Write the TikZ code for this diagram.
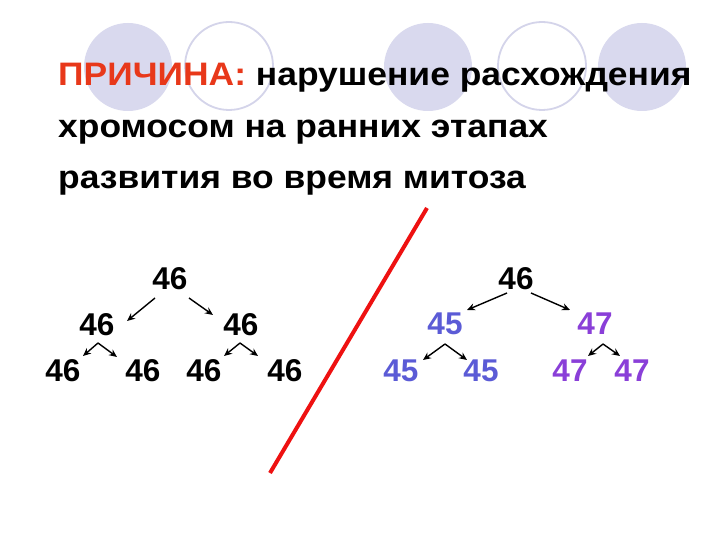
\documentclass[tikz,border=0pt]{standalone}
\usepackage{fontspec}
\setmainfont{Liberation Sans}
\usetikzlibrary{arrows.meta}
\definecolor{circfill}{HTML}{D9D9EE}
\definecolor{circline}{HTML}{D4D4EA}
\definecolor{causered}{HTML}{E8381A}
\definecolor{numblue}{HTML}{5B5BD6}
\definecolor{numpurple}{HTML}{8A3FD8}
\definecolor{slash}{HTML}{EE1111}
\newcommand{\wideline}[1]{\scalebox{1.09}[1]{#1}}
\tikzset{
  fillcirc/.style={circle, fill=circfill, minimum size=88pt, inner sep=0pt},
  ringcirc/.style={circle, draw=circline, line width=1.8pt, minimum size=88pt, inner sep=0pt},
  title/.style={anchor=base west, inner sep=0pt, font=\fontsize{32.5}{36}\selectfont\bfseries},
  num/.style={inner sep=0pt, font=\fontsize{31.5}{34}\selectfont\bfseries},
  arr/.style={-{Stealth[length=8pt,width=7pt]}, line width=1.4pt, black},
}
\begin{document}
\begin{tikzpicture}[x=1pt,y=-1pt]
\useasboundingbox (0,0) rectangle (720,540);
\fill[white] (0,0) rectangle (720,540);
% decorative circles
\node[fillcirc] (c1) at (128,67) {};
\node[ringcirc] (c2) at (229,66) {};
\node[fillcirc] (c3) at (428,67) {};
\node[ringcirc] (c4) at (542,66) {};
\node[fillcirc] (c5) at (642,67) {};
% title text
\node[title] (t1) at (58,86) {\wideline{\textcolor{causered}{ПРИЧИНА:} нарушение расхождения}};
\node[title] (t2) at (58,138) {\wideline{хромосом на ранних этапах}};
\node[title] (t3) at (58,189) {\wideline{развития во время митоза}};
% left tree
\node[num] (a0) at (170,279) {46};
\node[num] (a1) at (97,325) {46};
\node[num] (a2) at (241,325) {46};
\node[num] (a3) at (63,371) {46};
\node[num] (a4) at (143,371) {46};
\node[num] (a5) at (204,371) {46};
\node[num] (a6) at (285,371) {46};
\coordinate (a0l) at (155,298); \coordinate (a1t) at (127,321);
\coordinate (a0r) at (189,298); \coordinate (a2t) at (213,315);
\coordinate (a1x) at (98,343); \coordinate (a3t) at (83,356); \coordinate (a4t) at (117,357);
\coordinate (a2x) at (240,343); \coordinate (a5t) at (224,356); \coordinate (a6t) at (258,356);
\draw[arr] (a0l) -- (a1t);
\draw[arr] (a0r) -- (a2t);
\draw[arr] (a1x) -- (a3t);
\draw[arr] (a1x) -- (a4t);
\draw[arr] (a2x) -- (a5t);
\draw[arr] (a2x) -- (a6t);
% right tree
\node[num] (b0) at (516,279) {46};
\node[num, text=numblue] (b1) at (445,324) {45};
\node[num, text=numpurple] (b2) at (595,324) {47};
\node[num, text=numblue] (b3) at (401,371) {45};
\node[num, text=numblue] (b4) at (481,371) {45};
\node[num, text=numpurple] (b5) at (570,371) {47};
\node[num, text=numpurple] (b6) at (632,371) {47};
\coordinate (b0l) at (507,293); \coordinate (b1t) at (467,310);
\coordinate (b0r) at (531,293); \coordinate (b2t) at (570,310);
\coordinate (b1x) at (445,344); \coordinate (b3t) at (423,360); \coordinate (b4t) at (467,360);
\coordinate (b2x) at (603,344); \coordinate (b5t) at (588,356); \coordinate (b6t) at (620,356);
\draw[arr] (b0l) -- (b1t);
\draw[arr] (b0r) -- (b2t);
\draw[arr] (b1x) -- (b3t);
\draw[arr] (b1x) -- (b4t);
\draw[arr] (b2x) -- (b5t);
\draw[arr] (b2x) -- (b6t);
% red dividing line
\coordinate (s1) at (427,208);
\coordinate (s2) at (270,473);
\draw[slash, line width=4pt] (s1) -- (s2);
\end{tikzpicture}
\end{document}
